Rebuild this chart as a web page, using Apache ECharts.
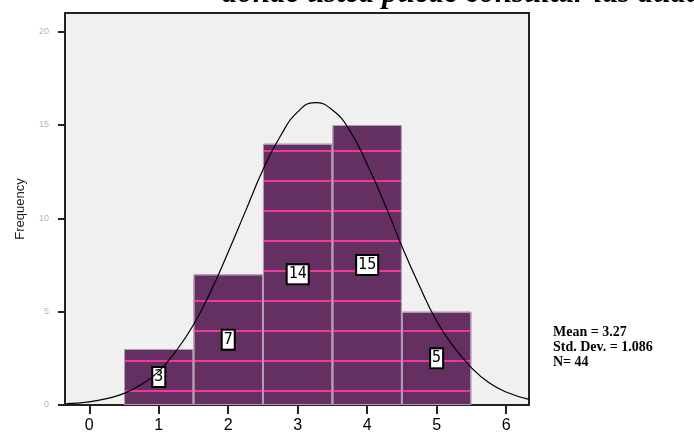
<!DOCTYPE html>
<html>
<head>
<meta charset="utf-8">
<script src="https://cdn.jsdelivr.net/npm/echarts@6/dist/echarts.min.js"></script>
<style>
  html, body { margin: 0; padding: 0; background: #fff; }
  #chart { width: 694px; height: 438px; }
</style>
</head>
<body>
<div id="chart"></div>
<script>
// histogram bins (midpoints) and counts
var binMid = [1, 2, 3, 4, 5];
var binCount = [3, 7, 14, 15, 5];

// fitted normal curve
var curveX = [-0.33, 0, 0.25, 0.5, 0.75, 1, 1.25, 1.5, 1.75, 2, 2.25, 2.5, 2.75, 3, 3.25, 3.5, 3.75, 4, 4.25, 4.5, 4.75, 5, 5.25, 5.5, 5.75, 6, 6.33];
var curveY = [0.07, 0.17, 0.34, 0.62, 1.1, 1.8, 2.9, 4.3, 6.1, 8.2, 10.4, 12.6, 14.4, 15.7, 16.2, 15.8, 14.7, 12.9, 10.8, 8.5, 6.4, 4.5, 3.1, 2.0, 1.2, 0.7, 0.3];

var xTicks = [0, 1, 2, 3, 4, 5, 6];
var statLines = ['Mean = 3.27', 'Std. Dev. = 1.086', 'N= 44'];

var bars = [];
for (var i = 0; i < binMid.length; i++) {
    bars.push([binMid[i], binCount[i]]);
}
var curve = [];
for (var j = 0; j < curveX.length; j++) {
    curve.push([curveX[j], curveY[j]]);
}

var chart = echarts.init(document.getElementById('chart'));

var option = {
    backgroundColor: '#fff',
    animation: false,
    grid: {
        left: 65, right: 165, top: 13, bottom: 33,
        show: true,
        backgroundColor: '#f0f0f0',
        borderColor: '#222',
        borderWidth: 2
    },
    xAxis: {
        type: 'value',
        min: -0.35,
        max: 6.33,
        axisLine: { show: true, onZero: false, lineStyle: { color: '#222', width: 2 } },
        axisTick: { show: true, customValues: xTicks, length: 9, lineStyle: { color: '#222', width: 2 } },
        axisLabel: {
            customValues: xTicks,
            color: '#000',
            fontSize: 16,
            fontFamily: 'Liberation Sans',
            margin: 13
        },
        splitLine: { show: false }
    },
    yAxis: {
        type: 'value',
        min: 0,
        max: 21,
        interval: 5,
        name: 'Frequency',
        nameLocation: 'middle',
        nameGap: 38,
        nameTextStyle: { color: '#222', fontSize: 13, fontFamily: 'Liberation Sans' },
        axisLine: { show: true, onZero: false, lineStyle: { color: '#222', width: 2 } },
        axisTick: { show: true, length: 7, lineStyle: { color: '#222', width: 2 } },
        axisLabel: {
            color: '#b5b5b5',
            fontSize: 9,
            fontFamily: 'Liberation Sans',
            margin: 16,
            showMaxLabel: false
        },
        splitLine: { show: false }
    },
    series: [
        {
            type: 'bar',
            data: bars,
            barWidth: 69.5,
            itemStyle: {
                color: '#633061',
                borderColor: '#b49ab4',
                borderWidth: 1,
                decal: {
                    symbol: 'rect',
                    symbolSize: 1,
                    color: '#f0359c',
                    dashArrayX: [1, 0],
                    dashArrayY: [2, 27.3],
                    rotation: 0
                }
            },
            label: {
                show: true,
                position: 'inside',
                formatter: function (p) { return p.value[1]; },
                color: '#000',
                fontFamily: 'DejaVu Sans Mono',
                fontSize: 15,
                backgroundColor: '#fff',
                borderColor: '#000',
                borderWidth: 2,
                padding: [2, 1, 1, 1]
            }
        },
        {
            type: 'line',
            data: curve,
            smooth: true,
            symbol: 'none',
            lineStyle: { color: '#000', width: 1.2 },
            z: 5
        }
    ],
    graphic: [
        {
            type: 'text',
            left: 222,
            top: -22,
            style: {
                text: 'donde usted puede consultar las dudas',
                font: 'italic bold 31px "Liberation Serif"',
                fill: '#000'
            }
        },
        {
            type: 'text',
            left: 553,
            top: 325,
            style: {
                text: statLines.join('\n'),
                font: 'bold 14px "Liberation Serif"',
                lineHeight: 15,
                fill: '#000'
            }
        }
    ]
};

chart.setOption(option);
</script>
</body>
</html>
